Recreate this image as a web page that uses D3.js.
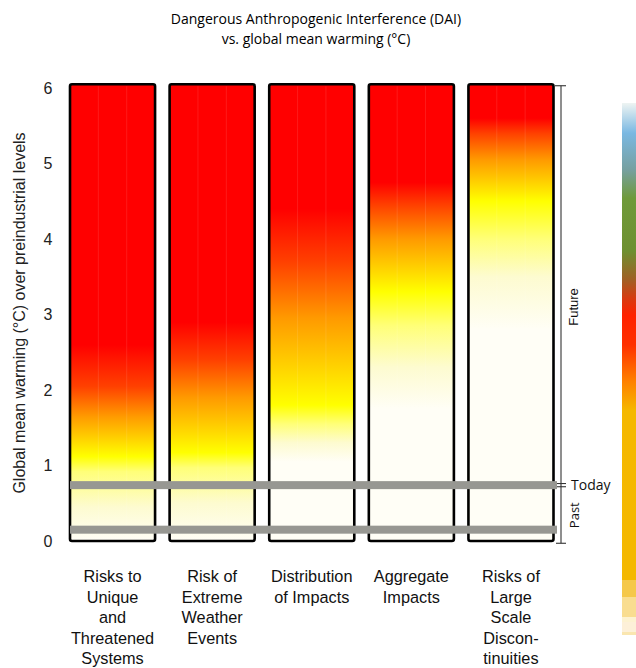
<!DOCTYPE html>
<html>
<head>
<meta charset="utf-8">
<script src="https://cdn.jsdelivr.net/npm/d3@7"></script>
<style>
  html, body { margin: 0; padding: 0; background: #ffffff; }
  svg { display: block; }
</style>
</head>
<body>
<svg id="chart" width="636" height="668"></svg>
<script>
// ---------------- DATA ----------------
const titleLines = ["Dangerous Anthropogenic Interference (DAI)", "vs. global mean warming (°C)"];
const yTitle = "Global mean warming (°C) over preindustrial levels";
const categories = [
  "Risks to Unique and Threatened Systems",
  "Risk of Extreme Weather Events",
  "Distribution of Impacts",
  "Aggregate Impacts",
  "Risks of Large Scale Discontinuities"
];
const categoryLines = [
  ["Risks to", "Unique", "and", "Threatened", "Systems"],
  ["Risk of", "Extreme", "Weather", "Events"],
  ["Distribution", "of Impacts"],
  ["Aggregate", "Impacts"],
  ["Risks of", "Large", "Scale", "Discon-", "tinuities"]
];
const yTicks = [0, 1, 2, 3, 4, 5, 6];

// risk levels: no risk -> pale -> light yellow -> yellow -> orange -> red-orange -> red
const levelColors = ["#fffef6", "#fdfbd0", "#ffff78", "#ffff00", "#ff9a00", "#ff4000", "#ff0000"];
// warming (°C) at which each column reaches each risk level
const levelTempsUnique       = [0.00, 0.45, 0.92, 1.12, 1.65, 2.05, 2.60];
const levelTempsExtreme      = [0.00, 0.50, 0.97, 1.17, 1.90, 2.40, 2.90];
const levelTempsDistribution = [1.05, 1.30, 1.55, 1.80, 2.95, 3.70, 4.40];
const levelTempsAggregate    = [1.75, 2.30, 2.85, 3.30, 4.00, 4.45, 4.75];
const levelTempsLargeScale   = [2.80, 3.50, 4.00, 4.50, 5.05, 5.40, 5.60];
const levelTemps = [levelTempsUnique, levelTempsExtreme, levelTempsDistribution, levelTempsAggregate, levelTempsLargeScale];

const todayTemp = 0.74;
const pastTemp = 0.15;
const bracketTop = 6.03;
const bracketBottom = -0.03;
const futureLabelTemp = 3.1;

// decorative colour bar at right edge (fractions along bar, colours)
const barStopFractions = [0, 0.063, 0.14, 0.20, 0.31, 0.37, 0.41, 0.445, 0.507, 0.583, 0.645, 1];
const barStopColors = ["#eef4f2", "#7ab8e2", "#76a0a0", "#6f9a3a", "#6e9030", "#a06024", "#d83a10", "#ff2200", "#ff3000", "#ff8000", "#f5b800", "#f4b800"];
const barStepColors = ["#f5c84a", "#f9dd90", "#fdf2d0", "#fdf0d8", "#fae6b0"];

// ---------------- LAYOUT ----------------
const svg = d3.select("#chart");
const y = d3.scaleLinear().domain([0, 6]).range([541, 88]);
const x = d3.scaleBand().domain(categories).range([70, 553.5]).paddingInner(0.146).paddingOuter(0);

const defs = svg.append("defs");

// Title
svg.append("g").selectAll("text").data(titleLines).join("text")
  .attr("x", 316).attr("y", (d, i) => 24 + i * 20)
  .attr("text-anchor", "middle")
  .attr("font-family", "'Open Sans', sans-serif").attr("font-size", 14)
  .attr("fill", "#000").text(d => d);

// Column gradients
categories.forEach((c, i) => {
  const temps = levelTemps[i];
  const g = defs.append("linearGradient")
    .attr("id", "grad" + i)
    .attr("gradientUnits", "userSpaceOnUse")
    .attr("x1", 0).attr("x2", 0)
    .attr("y1", y(0)).attr("y2", y(6.05));
  const span = y(0) - y(6.05);
  temps.forEach((t, k) => {
    g.append("stop")
      .attr("offset", (y(0) - y(t)) / span)
      .attr("stop-color", levelColors[k]);
  });
});

// Columns
const cols = svg.append("g");
cols.selectAll("rect.col").data(categories).join("rect")
  .attr("class", "col")
  .attr("x", d => x(d)).attr("y", y(6.05))
  .attr("width", x.bandwidth()).attr("height", y(0) - y(6.05))
  .attr("rx", 2).attr("ry", 2)
  .attr("fill", (d, i) => `url(#grad${i})`)
  .attr("stroke", "#000").attr("stroke-width", 2.6);

// faint vertical seams inside columns
categories.forEach(c => {
  [1 / 3, 2 / 3].forEach(f => {
    cols.append("line")
      .attr("x1", x(c) + x.bandwidth() * f).attr("x2", x(c) + x.bandwidth() * f)
      .attr("y1", y(6.05) + 2).attr("y2", y(0) - 2)
      .attr("stroke", "#ffffff").attr("stroke-opacity", 0.1).attr("stroke-width", 1);
  });
});

// Grey "today" and "past" bars
svg.append("g").selectAll("rect").data([todayTemp, pastTemp]).join("rect")
  .attr("x", 70).attr("width", 557 - 70)
  .attr("y", d => y(d) - 4).attr("height", 8)
  .attr("fill", "#979792");

// Y axis (labels only)
const yAxis = d3.axisLeft(y).tickValues(yTicks).tickSize(0).tickPadding(0).tickFormat(d3.format("d"));
const yg = svg.append("g").attr("transform", "translate(48,0)").call(yAxis);
yg.select(".domain").remove();
yg.selectAll("text")
  .attr("text-anchor", "middle")
  .attr("font-family", "'Liberation Sans', Arial, sans-serif")
  .attr("font-size", 16).attr("fill", "#222");

// Y title
svg.append("text")
  .attr("transform", `translate(25,${313}) rotate(-90)`)
  .attr("text-anchor", "middle")
  .attr("font-family", "'Liberation Sans', Arial, sans-serif")
  .attr("font-size", 16).attr("fill", "#222")
  .text(yTitle);

// Category labels
const lab = svg.append("g").selectAll("text").data(categories).join("text")
  .attr("text-anchor", "middle")
  .attr("font-family", "'Liberation Sans', Arial, sans-serif")
  .attr("font-size", 16.3).attr("fill", "#111");
lab.each(function (d, i) {
  d3.select(this).selectAll("tspan").data(categoryLines[i]).join("tspan")
    .attr("x", x(d) + x.bandwidth() / 2)
    .attr("y", (t, k) => 582 + k * 20.5)
    .text(t => t);
});

// Right bracket (Future / Today / Past)
const br = svg.append("g").attr("stroke", "#333").attr("stroke-width", 1.1);
br.append("line").attr("x1", 561).attr("x2", 561).attr("y1", y(bracketTop)).attr("y2", y(bracketBottom));
br.append("line").attr("x1", 555).attr("x2", 566).attr("y1", y(bracketTop)).attr("y2", y(bracketTop));
br.append("line").attr("x1", 556).attr("x2", 566).attr("y1", y(bracketBottom)).attr("y2", y(bracketBottom));
br.append("line").attr("x1", 557).attr("x2", 566).attr("y1", y(todayTemp) - 1.6).attr("y2", y(todayTemp) - 1.6);
br.append("line").attr("x1", 557).attr("x2", 566).attr("y1", y(todayTemp) + 1.6).attr("y2", y(todayTemp) + 1.6);

svg.append("text")
  .attr("transform", `translate(578,${y(futureLabelTemp)}) rotate(-90)`)
  .attr("text-anchor", "middle")
  .attr("font-family", "'Liberation Sans', Arial, sans-serif")
  .attr("font-size", 13).attr("fill", "#111").text("Future");
svg.append("text")
  .attr("x", 571).attr("y", y(todayTemp) + 5)
  .attr("font-family", "'Open Sans', sans-serif")
  .attr("font-size", 14).attr("fill", "#111").text("Today");
svg.append("text")
  .attr("transform", `translate(579,${y((todayTemp + bracketBottom) / 2) + 1}) rotate(-90)`)
  .attr("text-anchor", "middle")
  .attr("font-family", "'Open Sans', sans-serif")
  .attr("font-size", 13).attr("fill", "#111").text("Past");

// Decorative colour bar on far right
const barTop = 103, barGradBottom = 580;
const bg = defs.append("linearGradient").attr("id", "cbar")
  .attr("x1", 0).attr("x2", 0).attr("y1", 0).attr("y2", 1);
barStopFractions.forEach((f, k) => bg.append("stop").attr("offset", f).attr("stop-color", barStopColors[k]));
svg.append("rect").attr("x", 622).attr("y", barTop).attr("width", 14).attr("height", barGradBottom - barTop)
  .attr("fill", "url(#cbar)");
const stepEdges = [580, 597, 617, 622, 632, 635];
svg.append("g").selectAll("rect").data(barStepColors).join("rect")
  .attr("x", 622).attr("width", 14)
  .attr("y", (d, i) => stepEdges[i]).attr("height", (d, i) => stepEdges[i + 1] - stepEdges[i])
  .attr("fill", d => d);
</script>
</body>
</html>
